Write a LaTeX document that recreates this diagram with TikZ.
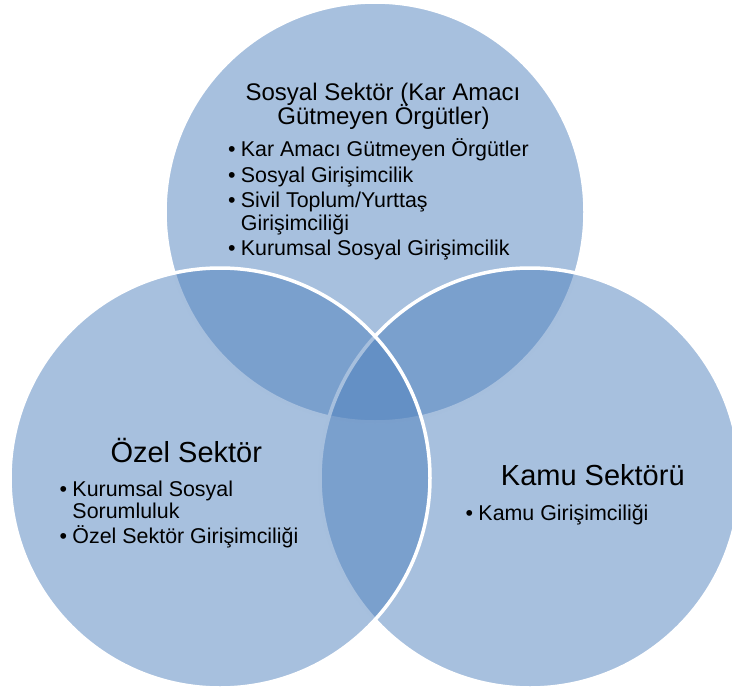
\documentclass[tikz,border=0pt]{standalone}
\usepackage{fontspec}
\setmainfont{Liberation Sans}
\definecolor{vennblue}{HTML}{4F81BD}
\newcommand{\bul}{\llap{\textbullet\hspace{5.3bp}}}
\begin{document}
\begin{tikzpicture}[x=1bp,y=-1bp,
  venn/.style={fill=vennblue, fill opacity=0.5, draw=white, line width=3.5bp},
  toptitle/.style={inner sep=0, anchor=base, font=\fontsize{24bp}{24bp}\selectfont},
  sidetitle/.style={inner sep=0, anchor=base, font=\fontsize{29bp}{30bp}\selectfont},
  item/.style={inner sep=0, anchor=base west, font=\fontsize{21.4bp}{22bp}\selectfont},
]
\useasboundingbox (0,0) rectangle (732,688);
\clip (0,0) rectangle (732,688);
% circles: top, right, left
\draw[venn] (375,212) circle[radius=210];
\draw[venn] (530,478) circle[radius=210];
\draw[venn] (220,478) circle[radius=210];
% top circle texts
\node[toptitle] (t1) at (383,100.5) {Sosyal Sektör (Kar Amacı};
\node[toptitle] (t2) at (383.5,124.5) {Gütmeyen Örgütler)};
\node[item] (ti1) at (240.7,156) {\bul Kar Amacı Gütmeyen Örgütler};
\node[item] (ti2) at (240.7,182.7) {\bul Sosyal Girişimcilik};
\node[item] (ti3) at (240.7,207.3) {\bul Sivil Toplum/Yurttaş};
\node[item] (ti3b) at (240.7,230.7) {Girişimciliği};
\node[item] (ti4) at (240.7,255) {\bul Kurumsal Sosyal Girişimcilik};
% left circle texts
\node[sidetitle] (l1) at (186.3,462.3) {Özel Sektör};
\node[item] (li1) at (72.3,496.7) {\bul Kurumsal Sosyal};
\node[item] (li1b) at (72.3,518.3) {Sorumluluk};
\node[item] (li2) at (72.3,543.3) {\bul Özel Sektör Girişimciliği};
% right circle texts
\node[sidetitle] (r1) at (592.8,485) {Kamu Sektörü};
\node[item] (ri1) at (478.3,520.7) {\bul Kamu Girişimciliği};
\end{tikzpicture}
\end{document}
